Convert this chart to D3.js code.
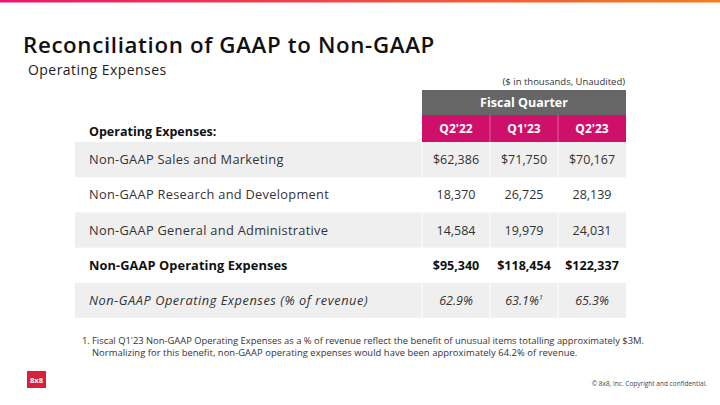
<!DOCTYPE html>
<html><head><meta charset="utf-8">
<script src="https://cdn.jsdelivr.net/npm/d3@7"></script>
<style>
html,body{margin:0;padding:0;background:#fff;}
svg{display:block;}
text{font-family:"Open Sans","Noto Sans",sans-serif;}
</style></head>
<body>
<script>
const quarters = ["Q2'22", "Q1'23", "Q2'23"];
const rowLabels = [
  "Non-GAAP Sales and Marketing",
  "Non-GAAP Research and Development",
  "Non-GAAP General and Administrative",
  "Non-GAAP Operating Expenses",
  "Non-GAAP Operating Expenses (% of revenue)"
];
const salesMarketing = [62386, 71750, 70167];
const researchDev = [18370, 26725, 28139];
const generalAdmin = [14584, 19979, 24031];
const totalOpex = [95340, 118454, 122337];
const pctRevenue = [62.9, 63.1, 65.3];
const pctFootnote = ["", "1", ""];

const W = 720, H = 405;
const svg = d3.select("body").append("svg").attr("width", W).attr("height", H);

// top gradient bar
const defs = svg.append("defs");
const grad = defs.append("linearGradient").attr("id", "topg").attr("x1", "0").attr("x2", "1");
grad.append("stop").attr("offset", "0").attr("stop-color", "#e8176d");
grad.append("stop").attr("offset", "1").attr("stop-color", "#f47d1f");
svg.append("rect").attr("x", 0).attr("y", 0).attr("width", W).attr("height", 2.5).attr("fill", "url(#topg)");

// titles
svg.append("text").attr("x", 23).attr("y", 52.5).attr("font-size", 22.3).attr("font-weight", 600)
  .attr("fill", "#111").attr("letter-spacing", 0.65).text("Reconciliation of GAAP to Non-GAAP");
svg.append("text").attr("x", 28).attr("y", 74.5).attr("font-size", 14).attr("fill", "#222")
  .attr("letter-spacing", 0.45).text("Operating Expenses");
svg.append("text").attr("x", 625).attr("y", 85).attr("font-size", 9.5).attr("fill", "#333")
  .attr("text-anchor", "end").text("($ in thousands, Unaudited)");

// scales
const x = d3.scaleBand().domain(quarters).range([422, 626]);
const y = d3.scaleBand().domain(d3.range(rowLabels.length)).range([142, 318]);
const tableLeft = 75, tableRight = 626;

// header
svg.append("rect").attr("x", x.range()[0]).attr("y", 90).attr("width", x.range()[1] - x.range()[0])
  .attr("height", 25).attr("fill", "#666666");
svg.append("text").attr("x", (x.range()[0] + x.range()[1]) / 2).attr("y", 106.5)
  .attr("text-anchor", "middle").attr("font-size", 12.5).attr("font-weight", 700).attr("fill", "#fff")
  .text("Fiscal Quarter");
const hdr = svg.append("g");
hdr.selectAll("rect").data(quarters).join("rect")
  .attr("x", d => x(d)).attr("y", 115).attr("width", x.bandwidth()).attr("height", 27)
  .attr("fill", "#cf106b");
hdr.selectAll("line").data(quarters.slice(1)).join("line")
  .attr("x1", d => x(d)).attr("x2", d => x(d)).attr("y1", 115).attr("y2", 142)
  .attr("stroke", "#e07aa8").attr("stroke-width", 0.8);
hdr.selectAll("text").data(quarters).join("text")
  .attr("x", d => x(d) + x.bandwidth() / 2).attr("y", 133)
  .attr("text-anchor", "middle").attr("font-size", 12).attr("font-weight", 700).attr("fill", "#fff")
  .text(d => d);
svg.append("text").attr("x", 89).attr("y", 136).attr("font-size", 12.5).attr("font-weight", 700)
  .attr("fill", "#111").text("Operating Expenses:");

// rows
const rows = rowLabels.map((label, i) => ({
  label, i,
  values: [salesMarketing, researchDev, generalAdmin, totalOpex, pctRevenue][i]
}));
const fmtDollar = d3.format("$,");
const fmtNum = d3.format(",");
const fmtPct = v => d3.format(".1f")(v) + "%";

const rg = svg.append("g").selectAll("g").data(rows).join("g");
rg.filter(d => d.i % 2 === 0).append("rect")
  .attr("x", tableLeft).attr("y", d => y(d.i)).attr("width", tableRight - tableLeft)
  .attr("height", y.bandwidth()).attr("fill", "#efefef");
rg.filter(d => d.i % 2 === 0).selectAll("line").data(quarters).join("line")
  .attr("x1", q => x(q)).attr("x2", q => x(q))
  .attr("y1", function() { return y(d3.select(this.parentNode).datum().i); })
  .attr("y2", function() { return y(d3.select(this.parentNode).datum().i) + y.bandwidth(); })
  .attr("stroke", "#fff").attr("stroke-width", 1);

rg.append("text").attr("x", 89).attr("y", d => y(d.i) + y.bandwidth() / 2 + 4.5)
  .attr("font-size", 12.8)
  .attr("letter-spacing", d => d.i === 4 ? 0.55 : (d.i === 3 ? 0.1 : 0.3))
  .attr("font-weight", d => d.i === 3 ? 700 : 400)
  .attr("font-style", d => d.i === 4 ? "italic" : "normal")
  .attr("fill", d => d.i === 3 ? "#111" : "#333")
  .text(d => d.label);

rg.each(function(d) {
  const g = d3.select(this);
  const t = g.selectAll("text.val").data(quarters.map((q, j) => ({ q, j, v: d.values[j] }))).join("text")
    .attr("class", "val")
    .attr("x", c => x(c.q) + x.bandwidth() / 2)
    .attr("y", y(d.i) + y.bandwidth() / 2 + 4.5)
    .attr("text-anchor", "middle")
    .attr("font-size", 12.5)
    .attr("font-weight", d.i === 3 ? 700 : 400)
    .attr("font-style", d.i === 4 ? "italic" : "normal")
    .attr("fill", d.i === 3 ? "#111" : "#333");
  t.each(function(c) {
    const el = d3.select(this);
    if (d.i === 0 || d.i === 3) el.text(fmtDollar(c.v));
    else if (d.i === 4) {
      el.text(fmtPct(c.v));
      if (pctFootnote[c.j]) {
        el.append("tspan").attr("font-size", 7).attr("dy", -5).text(pctFootnote[c.j]);
      }
    } else el.text(fmtNum(c.v));
  });
});

// footnote
svg.append("text").attr("x", 82).attr("y", 344).attr("font-size", 9.4).attr("fill", "#333")
  .text("1.");
svg.append("text").attr("x", 92).attr("y", 344).attr("font-size", 9.4).attr("fill", "#333")
  .text("Fiscal Q1'23  Non-GAAP Operating Expenses as a % of revenue reflect the benefit of unusual  items totalling approximately $3M.");
svg.append("text").attr("x", 92).attr("y", 356).attr("font-size", 9.4).attr("fill", "#333")
  .attr("letter-spacing", 0.05)
  .text("Normalizing for this benefit, non-GAAP operating expenses would have been approximately 64.2% of revenue.");

// logo
svg.append("rect").attr("x", 27).attr("y", 371).attr("width", 19).attr("height", 17).attr("fill", "#d7213a");
svg.append("text").attr("x", 36.5).attr("y", 383).attr("text-anchor", "middle").attr("font-size", 7.5)
  .attr("font-weight", 700).attr("fill", "#fff").text("8x8");

svg.append("text").attr("x", 707).attr("y", 386).attr("text-anchor", "end").attr("font-size", 6.5)
  .attr("fill", "#444").text("© 8x8, Inc. Copyright and confidential.");
</script>
</body></html>
